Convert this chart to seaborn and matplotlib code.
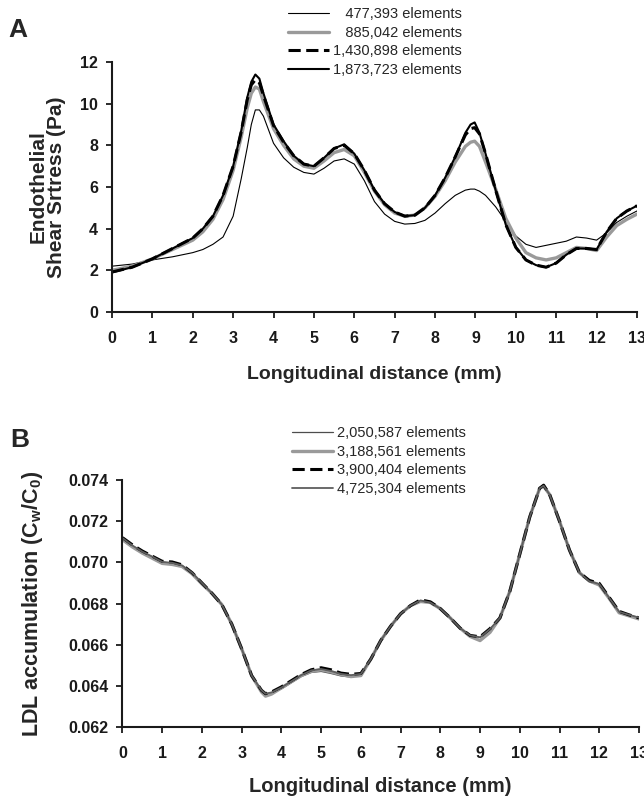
import numpy as np
import pandas as pd
import seaborn as sns
import matplotlib
matplotlib.use("Agg")
import matplotlib.pyplot as plt

# ---- panel A : endothelial shear stress (Pa) vs longitudinal distance (mm)
xA = [0, 0.5, 1, 1.5, 2, 2.25, 2.5, 2.75, 3, 3.2, 3.35, 3.45, 3.55, 3.65, 3.75, 4, 4.25,
      4.5, 4.75, 5, 5.25, 5.5, 5.75, 6, 6.25, 6.5, 6.75, 7, 7.25, 7.5, 7.75, 8, 8.25, 8.5,
      8.75, 8.88, 8.98, 9.1, 9.25, 9.5, 9.75, 10, 10.25, 10.5, 10.75, 11, 11.25, 11.5,
      11.75, 12, 12.25, 12.5, 12.75, 13]
wss_477k = [2.2, 2.3, 2.5, 2.65, 2.85, 3.0, 3.25, 3.6, 4.6, 6.4, 7.9, 9.0, 9.7, 9.7, 9.4,
            8.1, 7.4, 6.95, 6.7, 6.62, 6.9, 7.25, 7.35, 7.1, 6.3, 5.3, 4.7, 4.35, 4.22,
            4.25, 4.4, 4.75, 5.2, 5.6, 5.85, 5.9, 5.9, 5.8, 5.6, 5.05, 4.35, 3.65, 3.25,
            3.1, 3.2, 3.3, 3.4, 3.6, 3.55, 3.45, 3.8, 4.3, 4.6, 4.85]
wss_885k = [2.0, 2.2, 2.55, 3.0, 3.45, 3.85, 4.45, 5.4, 6.8, 8.4, 9.8, 10.5, 10.8, 10.7,
            10.1, 8.8, 8.0, 7.35, 7.0, 6.9, 7.25, 7.65, 7.8, 7.5, 6.7, 5.8, 5.15, 4.75,
            4.6, 4.65, 5.0, 5.55, 6.3, 7.2, 7.95, 8.15, 8.2, 7.95, 7.2, 5.9, 4.5, 3.55,
            2.85, 2.6, 2.5, 2.6, 2.85, 3.1, 3.05, 2.95, 3.6, 4.15, 4.45, 4.7]
wss_1431k = [1.92, 2.15, 2.55, 3.05, 3.55, 4.0, 4.6, 5.6, 7.0, 8.65, 10.2, 10.9, 11.15,
             11.0, 10.4, 8.95, 8.15, 7.5, 7.1, 7.0, 7.4, 7.85, 8.0, 7.6, 6.8, 5.85, 5.2,
             4.8, 4.6, 4.65, 5.0, 5.6, 6.45, 7.45, 8.5, 8.8, 8.85, 8.55, 7.6, 5.85, 4.2,
             3.1, 2.5, 2.25, 2.15, 2.35, 2.75, 3.05, 3.05, 3.0, 3.85, 4.5, 4.85, 5.1]
wss_1874k = [1.9, 2.15, 2.55, 3.05, 3.55, 4.0, 4.6, 5.6, 7.0, 8.7, 10.3, 11.05, 11.4,
             11.2, 10.5, 9.0, 8.2, 7.5, 7.1, 7.0, 7.4, 7.85, 8.05, 7.6, 6.8, 5.85, 5.2,
             4.8, 4.6, 4.65, 5.0, 5.6, 6.45, 7.45, 8.6, 9.0, 9.1, 8.6, 7.6, 5.85, 4.2, 3.1,
             2.5, 2.25, 2.15, 2.35, 2.75, 3.05, 3.05, 3.0, 3.85, 4.5, 4.85, 5.1]
labelsA = ["   477,393 elements", "   885,042 elements",
           "1,430,898 elements", "1,873,723 elements"]

# ---- panel B : LDL accumulation (Cw/C0) vs longitudinal distance (mm)
xB = [0, 0.25, 0.5, 0.75, 1, 1.25, 1.5, 1.75, 2, 2.25, 2.5, 2.75, 3, 3.25, 3.5, 3.6, 3.75,
      4, 4.25, 4.5, 4.75, 5, 5.25, 5.5, 5.75, 6, 6.25, 6.5, 6.75, 7, 7.25, 7.5, 7.75, 8,
      8.25, 8.5, 8.75, 9, 9.25, 9.5, 9.75, 10, 10.25, 10.5, 10.6, 10.75, 11, 11.25, 11.5,
      11.75, 12, 12.25, 12.5, 12.75, 13]
ldl_2051k = [0.07115, 0.0708, 0.0705, 0.07025, 0.07002, 0.06995, 0.06982, 0.0695, 0.069,
             0.0685, 0.06795, 0.067, 0.0658, 0.0645, 0.06375, 0.0636, 0.06365, 0.06385,
             0.06415, 0.06445, 0.06465, 0.0647, 0.0646, 0.06448, 0.06443, 0.06452, 0.0653,
             0.0662, 0.0669, 0.0675, 0.0679, 0.06812, 0.06802, 0.06772, 0.0673, 0.0668,
             0.06645, 0.06635, 0.06675, 0.0673, 0.0686, 0.0704, 0.0722, 0.0736, 0.0737,
             0.0733, 0.072, 0.0706, 0.0695, 0.06905, 0.0689, 0.06825, 0.0676, 0.06745,
             0.06728]
ldl_3189k = [0.0711, 0.07075, 0.07045, 0.0702, 0.06995, 0.0699, 0.0698, 0.06945, 0.06895,
             0.0685, 0.06795, 0.067, 0.0658, 0.0645, 0.0637, 0.0635, 0.0636, 0.0639, 0.0642,
             0.0645, 0.0647, 0.06478, 0.06468, 0.06455, 0.06445, 0.0645, 0.0653, 0.0662,
             0.0669, 0.0675, 0.0679, 0.0681, 0.06805, 0.06775, 0.0673, 0.0668, 0.0664,
             0.0662, 0.0666, 0.0673, 0.0686, 0.0704, 0.0722, 0.0736, 0.0737, 0.0733, 0.072,
             0.0706, 0.0695, 0.0691, 0.0689, 0.06825, 0.06755, 0.0674, 0.06725]
ldl_3900k = [0.0712, 0.07085, 0.07055, 0.0703, 0.07005, 0.07002, 0.06988, 0.0695, 0.069,
             0.0685, 0.06795, 0.067, 0.0658, 0.0645, 0.06378, 0.06362, 0.0637, 0.06395,
             0.06425, 0.06455, 0.06478, 0.06488, 0.06478, 0.06462, 0.06456, 0.0646, 0.0653,
             0.0662, 0.0669, 0.0675, 0.0679, 0.06818, 0.06808, 0.06775, 0.0673, 0.0668,
             0.06645, 0.06638, 0.06678, 0.0673, 0.0686, 0.0704, 0.0722, 0.0736, 0.07375,
             0.0733, 0.072, 0.0706, 0.0695, 0.06912, 0.06898, 0.0683, 0.06762, 0.06745,
             0.0673]
ldl_4725k = [0.07118, 0.07082, 0.07052, 0.07028, 0.07002, 0.06998, 0.06985, 0.0695, 0.069,
             0.0685, 0.06795, 0.067, 0.0658, 0.0645, 0.06378, 0.06362, 0.06368, 0.06392,
             0.06422, 0.06452, 0.06475, 0.06482, 0.06472, 0.06458, 0.06452, 0.06458, 0.0653,
             0.0662, 0.0669, 0.0675, 0.0679, 0.06815, 0.06805, 0.06775, 0.0673, 0.0668,
             0.06645, 0.06636, 0.06676, 0.0673, 0.0686, 0.0704, 0.0722, 0.0736, 0.07372,
             0.0733, 0.072, 0.0706, 0.0695, 0.06908, 0.06895, 0.06828, 0.0676, 0.06745,
             0.06732]
labelsB = ["2,050,587 elements", "3,188,561 elements",
           "3,900,404 elements", "4,725,304 elements"]

#%% style
sns.set_style("ticks")
plt.rcParams["font.family"] = ["Liberation Sans", "DejaVu Sans"]
plt.rcParams["mathtext.fontset"] = "custom"
plt.rcParams["mathtext.rm"] = "Liberation Sans:bold"
plt.rcParams["mathtext.default"] = "rm"
plt.rcParams["axes.linewidth"] = 1.5
plt.rcParams["xtick.major.width"] = 1.3
plt.rcParams["ytick.major.width"] = 1.3
plt.rcParams["xtick.major.size"] = 4
plt.rcParams["ytick.major.size"] = 4
plt.rcParams["xtick.color"] = "#1a1a1a"
plt.rcParams["ytick.color"] = "#1a1a1a"
plt.rcParams["axes.edgecolor"] = "#1a1a1a"

stylesA = [dict(color="black", lw=0.8),
           dict(color="#9a9a9a", lw=2.4),
           dict(color="black", lw=2.2, ls=(0, (4, 1.8))),
           dict(color="black", lw=1.5)]
stylesB = [dict(color="#4d4d4d", lw=0.9),
           dict(color="#9a9a9a", lw=2.4),
           dict(color="black", lw=2.2, ls=(0, (4, 1.8))),
           dict(color="#5e5e5e", lw=1.3)]

fig = plt.figure(figsize=(6.44, 7.99), dpi=100)
axA = fig.add_axes([0.1739, 0.6095, 0.8152, 0.3129])
axB = fig.add_axes([0.1902, 0.0901, 0.8020, 0.3091])

for ys, lab, st in zip([wss_477k, wss_885k, wss_1431k, wss_1874k], labelsA, stylesA):
    sns.lineplot(x=xA, y=ys, ax=axA, label=lab, **st)
for ys, lab, st in zip([ldl_2051k, ldl_3189k, ldl_3900k, ldl_4725k], labelsB, stylesB):
    sns.lineplot(x=xB, y=ys, ax=axB, label=lab, **st)

tickfont = dict(fontsize=11.5, fontweight="bold")
for ax in (axA, axB):
    sns.despine(ax=ax)
    ax.set_xlim(0, 13)
    ax.set_xticks(range(0, 14))
    ax.set_xticklabels([str(i) for i in range(0, 14)], **tickfont)
    ax.tick_params(axis="x", pad=10)
    ax.tick_params(axis="y", pad=6)

axA.set_xlabel("Longitudinal distance (mm)", fontsize=14, fontweight="bold", labelpad=14)
axB.set_xlabel("Longitudinal distance (mm)", fontsize=14.5, fontweight="bold", labelpad=11)

axA.set_ylim(0, 12)
axA.set_yticks(range(0, 13, 2))
axA.set_yticklabels([str(v) for v in range(0, 13, 2)], **tickfont)
axA.set_ylabel("Endothelial\nShear Srtress (Pa)", fontsize=15, fontweight="bold",
               labelpad=10, linespacing=1.0)

yticksB = [0.062, 0.064, 0.066, 0.068, 0.070, 0.072, 0.074]
axB.set_ylim(0.062, 0.074)
axB.set_yticks(yticksB)
axB.set_yticklabels(["%.3f" % v for v in yticksB], **tickfont)
axB.set_ylabel(r"LDL accumulation (C$_{w}$/C$_{0}$)", fontsize=15.5, fontweight="bold",
               labelpad=17)

legkw = dict(frameon=False, fontsize=10.5, handlelength=2.8, handletextpad=0.3,
             labelspacing=0.32, borderpad=0, borderaxespad=0, loc="upper left")
axA.legend(bbox_to_anchor=(288 / 644, 1 - 7 / 799), bbox_transform=fig.transFigure, **legkw)
axB.legend(bbox_to_anchor=(292 / 644, 1 - 426 / 799), bbox_transform=fig.transFigure, **legkw)

fig.text(8 / 644, 1 - 37 / 799, "A", fontsize=19, fontweight="bold", va="baseline")
fig.text(10 / 644, 1 - 447 / 799, "B", fontsize=19, fontweight="bold", va="baseline")

fig.savefig("out.png", dpi=100)
